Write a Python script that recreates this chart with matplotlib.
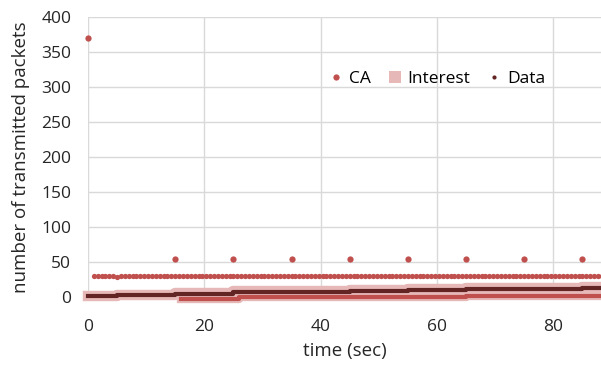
import numpy as np
import matplotlib.pyplot as plt

plt.rcParams['font.family'] = ['Open Sans', 'DejaVu Sans']

# CA: packets sent every 2/3 s, plus extra peaks every 10 s
ca_time = np.arange(1, 88.5, 2/3)
ca_values = [30] * len(ca_time)
ca_values[6] = 28
ca_first_t = [0]
ca_first_v = [370]
ca_peak_t = [15, 25, 35, 45, 55, 65, 75, 85]
ca_peak_v = [55, 55, 55, 55, 55, 55, 55, 55]

# lower CA band near zero
ca_low_t = [16, 26, 45, 65, 85, 89]
ca_low_v = [-2.5, -0.5, 0, 1, 1.5, 1.5]

# Interest (light band) and Data (dark line), step changes
interest_t = [0, 5, 15, 25, 35, 45, 55, 65, 75, 85, 89]
interest_v = [2, 3, 6, 8, 9, 10.5, 11.5, 12.5, 13.5, 15, 15]
data_t = [0, 5, 15, 25, 35, 45, 55, 65, 75, 85, 89]
data_v = [2, 2.5, 5, 6.5, 7.5, 9, 10, 11, 12, 13.5, 13.5]

fig = plt.figure(figsize=(6.01, 3.68), dpi=100)
ax = fig.add_axes([88/601, 1 - 297/368, 1 - 88/601, 280/368])

ax.step(ca_low_t, ca_low_v, where='post', color='#E6B9B8', lw=6, clip_on=False, zorder=2)
ax.step(interest_t, interest_v, where='post', color='#E6B9B8', lw=7.5, clip_on=False, zorder=2)
ax.step(ca_low_t, ca_low_v, where='post', color='#C0504D', lw=3, clip_on=False, zorder=3)
ax.step(data_t, data_v, where='post', color='#632523', lw=3, clip_on=False, zorder=4)

ax.plot(ca_time, ca_values, 'o', color='#C0504D', ms=3.8, mew=0, zorder=5)
ax.plot(ca_first_t, ca_first_v, 'o', color='#C0504D', ms=4.5, mew=0, clip_on=False, zorder=5)
ax.plot(ca_peak_t, ca_peak_v, 'o', color='#C0504D', ms=4.5, mew=0, zorder=5)

# legend handles
ax.plot([], [], 'o', color='#C0504D', ms=4.5, mew=0, label='CA')
ax.plot([], [], 's', color='#E6B9B8', ms=9, mew=0, label='Interest')
ax.plot([], [], 'o', color='#632523', ms=3, mew=0, label='Data')
ax.legend(loc='upper left', bbox_to_anchor=(0.445, 0.865), ncol=3, frameon=False,
          fontsize=12.5, handlelength=0.5, handletextpad=0.5, columnspacing=1.1)

ax.set_xlim(0, 88.2)
ax.set_ylim(0, 400)
ax.set_xticks([0, 20, 40, 60, 80])
ax.set_yticks(range(0, 401, 50))
ax.grid(color='#D9D9D9', lw=1)
ax.set_axisbelow(True)
for s in ax.spines.values():
    s.set_visible(False)
ax.tick_params(axis='y', length=0, labelsize=12.5, colors='#262626', pad=12)
ax.tick_params(axis='x', length=0, labelsize=12.5, colors='#262626', pad=16)
ax.set_xlabel('time (sec)', fontsize=13.5, color='#262626', labelpad=5)
ax.set_ylabel('number of transmitted packets', fontsize=13.5, color='#262626', labelpad=8)

fig.savefig('out.png', dpi=100)
